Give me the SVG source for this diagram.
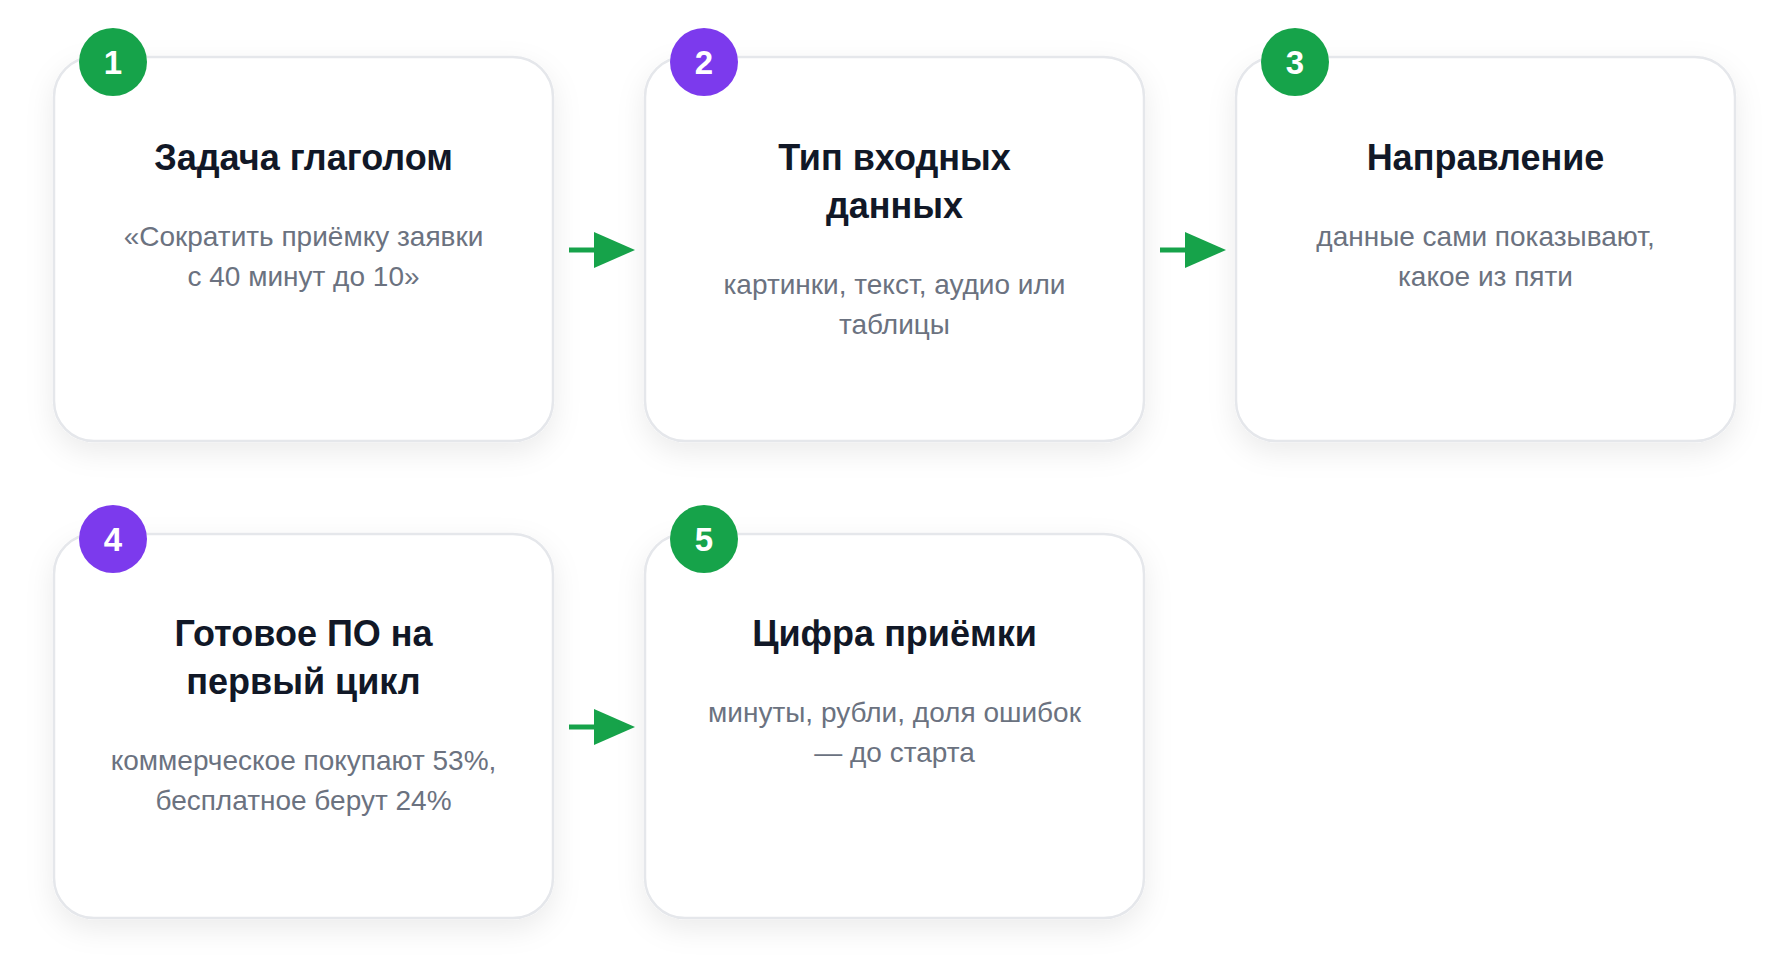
<svg xmlns="http://www.w3.org/2000/svg" width="1790" height="977" viewBox="0 0 1790 977">
<defs>
<filter id="sh" x="-20%" y="-20%" width="140%" height="150%">
<feDropShadow dx="0" dy="10" stdDeviation="14" flood-color="#0f172a" flood-opacity="0.08"/>
</filter>
<marker id="ah" markerUnits="userSpaceOnUse" markerWidth="41" markerHeight="36" refX="0" refY="18" orient="auto" viewBox="0 0 41 36">
<path d="M0,0 L41,18 L0,36 Z" fill="#16a34a"/>
</marker>
<style>
.card{fill:#ffffff;stroke:#e5e7eb;stroke-width:2.5;filter:url(#sh)}
.t{font-family:"Liberation Sans",Arial,sans-serif;font-weight:700;font-size:36px;fill:#111827;text-anchor:middle}
.d{font-family:"Liberation Sans",Arial,sans-serif;font-size:28px;fill:#6b7280;text-anchor:middle}
.n{font-family:"Liberation Sans",Arial,sans-serif;font-weight:700;font-size:33px;fill:#ffffff;text-anchor:middle}
.g{fill:#16a34a}
.p{fill:#7c3aed}
.c{stroke:#16a34a;stroke-width:5;fill:none}
</style>
</defs>
<rect width="1790" height="977" fill="#ffffff"/>
<g id="connectors">
<line class="c" x1="569" y1="250" x2="594" y2="250" marker-end="url(#ah)"/>
<line class="c" x1="1160" y1="250" x2="1185" y2="250" marker-end="url(#ah)"/>
<line class="c" x1="569" y1="727" x2="594" y2="727" marker-end="url(#ah)"/>
</g>
<g id="node1">
<rect class="card" x="54" y="57" width="499" height="384" rx="40"/>
<circle class="g" cx="113" cy="62" r="34"/>
<text class="n" x="113" y="74">1</text>
<text class="t" x="303.5" y="170">Задача глаголом</text>
<text class="d" x="303.5" y="246">«Сократить приёмку заявки</text>
<text class="d" x="303.5" y="286">с 40 минут до 10»</text>
</g>
<g id="node2">
<rect class="card" x="645" y="57" width="499" height="384" rx="40"/>
<circle class="p" cx="704" cy="62" r="34"/>
<text class="n" x="704" y="74">2</text>
<text class="t" x="894.5" y="170">Тип входных</text>
<text class="t" x="894.5" y="218">данных</text>
<text class="d" x="894.5" y="294">картинки, текст, аудио или</text>
<text class="d" x="894.5" y="334">таблицы</text>
</g>
<g id="node3">
<rect class="card" x="1236" y="57" width="499" height="384" rx="40"/>
<circle class="g" cx="1295" cy="62" r="34"/>
<text class="n" x="1295" y="74">3</text>
<text class="t" x="1485.5" y="170">Направление</text>
<text class="d" x="1485.5" y="246">данные сами показывают,</text>
<text class="d" x="1485.5" y="286">какое из пяти</text>
</g>
<g id="node4">
<rect class="card" x="54" y="534" width="499" height="384" rx="40"/>
<circle class="p" cx="113" cy="539" r="34"/>
<text class="n" x="113" y="551">4</text>
<text class="t" x="303.5" y="646">Готовое ПО на</text>
<text class="t" x="303.5" y="694">первый цикл</text>
<text class="d" x="303.5" y="770">коммерческое покупают 53%,</text>
<text class="d" x="303.5" y="810">бесплатное берут 24%</text>
</g>
<g id="node5">
<rect class="card" x="645" y="534" width="499" height="384" rx="40"/>
<circle class="g" cx="704" cy="539" r="34"/>
<text class="n" x="704" y="551">5</text>
<text class="t" x="894.5" y="646">Цифра приёмки</text>
<text class="d" x="894.5" y="722">минуты, рубли, доля ошибок</text>
<text class="d" x="894.5" y="762">— до старта</text>
</g>
</svg>
